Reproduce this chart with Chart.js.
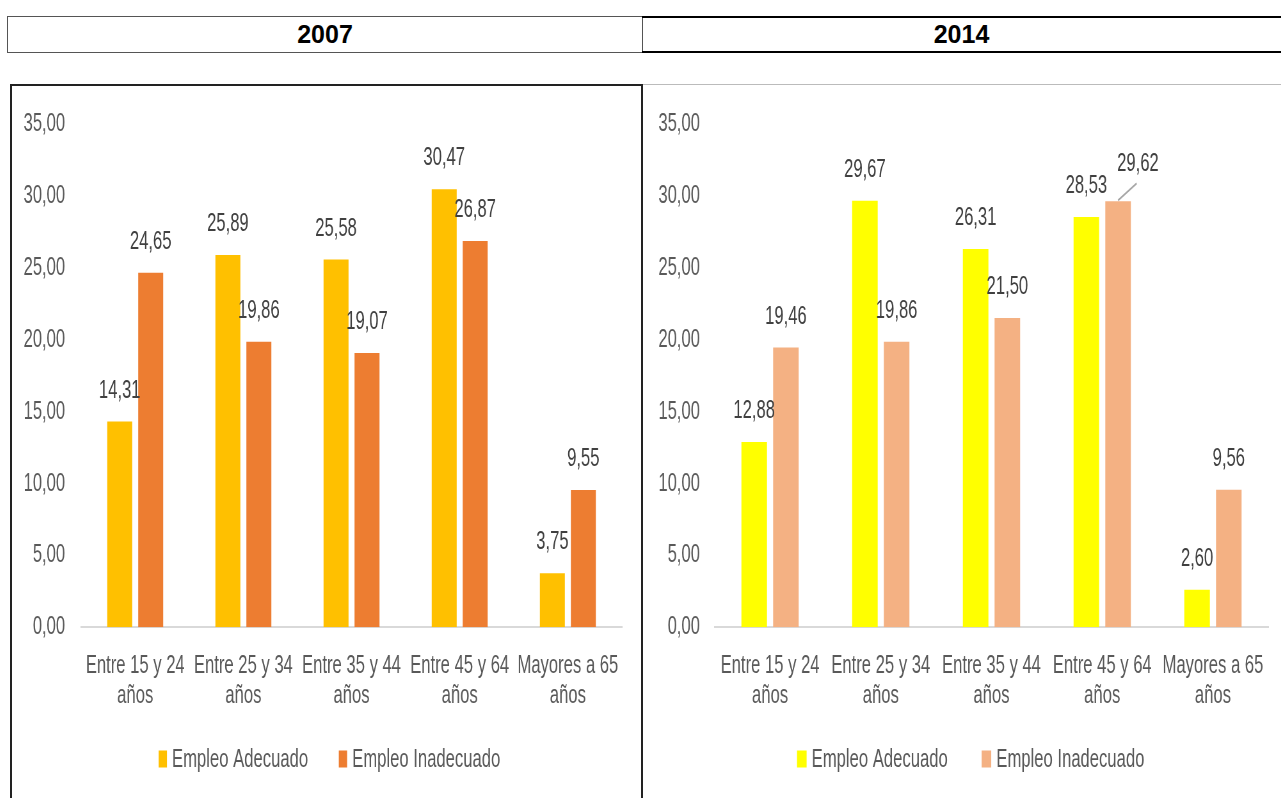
<!DOCTYPE html>
<html>
<head>
<meta charset="utf-8">
<script src="https://cdn.jsdelivr.net/npm/chart.js@4.4.0/dist/chart.umd.min.js"></script>
<style>
    html, body { margin: 0; padding: 0; background: #fff; }
    body {
        width: 1281px; height: 798px; position: relative; overflow: hidden;
        font-family: "Liberation Sans", Arial, sans-serif;
    }
    .head {
        position: absolute; top: 16px; height: 37px; box-sizing: border-box;
        display: flex; align-items: center; justify-content: center;
        font-weight: bold; font-size: 25px; color: #000;
    }
    #h2007 { left: 7px; width: 636px; border: 1px solid #555; }
    #h2014 { left: 642px; width: 639px; border-top: 2px solid #000; border-bottom: 2px solid #000; }
    .panel { position: absolute; top: 84px; height: 714px; box-sizing: border-box; overflow: hidden; }
    #p2007 { left: 10px; width: 633px; border: 2px solid #222; border-bottom: none; }
    #p2014 { left: 643px; width: 638px; border-top: 1px solid #bbb; }
    /* the pasted charts are squeezed sideways, so draw wide and squeeze */
    .squeeze { position: absolute; left: 0; top: 0; transform-origin: 0 0; }
</style>
</head>
<body>

<div class="head" id="h2007">2007</div>
<div class="head" id="h2014">2014</div>

<div class="panel" id="p2007"><div class="squeeze" id="s2007"><canvas id="chart2007"></canvas></div></div>
<div class="panel" id="p2014"><div class="squeeze" id="s2014"><canvas id="chart2014"></canvas></div></div>

<script>
// ---------- DATA ----------
const categories = [
    ["Entre 15 y 24", "años"],
    ["Entre 25 y 34", "años"],
    ["Entre 35 y 44", "años"],
    ["Entre 45 y 64", "años"],
    ["Mayores a 65", "años"]
];
const seriesNames = ["Empleo Adecuado", "Empleo Inadecuado"];

const adecuado2007   = [14.31, 25.89, 25.58, 30.47, 3.75];
const inadecuado2007 = [24.65, 19.86, 19.07, 26.87, 9.55];

const adecuado2014   = [12.88, 29.67, 26.31, 28.53, 2.60];
const inadecuado2014 = [19.46, 19.86, 21.50, 29.62, 9.56];

const yMax = 35;
const yStep = 5;

const SQUEEZE = 0.64;
const TEXT = "#595959";
const FONT = "'Liberation Sans', Arial, sans-serif";
const fmt = v => Number(v).toFixed(2).replace(".", ",");

// ------------------------------------------------------------
// VALUE LABELS ABOVE THE BARS
// ------------------------------------------------------------
const valueLabels = {
    id: "valueLabels",
    afterDatasetsDraw(chart, args, opts) {
        const ctx = chart.ctx;
        ctx.save();
        ctx.font = "26px " + FONT;
        ctx.fillStyle = "#404040";
        ctx.textAlign = "center";
        ctx.textBaseline = "middle";
        chart.data.datasets.forEach((ds, di) => {
            chart.getDatasetMeta(di).data.forEach((bar, i) => {
                const nudge = (opts.nudge || {})[di + "-" + i];
                let x = bar.x, y = bar.y - 31;
                if (nudge) {
                    x += nudge[0];
                    y += nudge[1];
                    // leader line back to the bar
                    ctx.strokeStyle = "#a6a6a6";
                    ctx.lineWidth = 2;
                    ctx.beginPath();
                    ctx.moveTo(bar.x, bar.y - 1);
                    ctx.lineTo(x - 2, y + 20);
                    ctx.stroke();
                }
                ctx.fillText(fmt(ds.data[i]), x, y);
            });
        });
        ctx.restore();
    }
};

// ------------------------------------------------------------
// LEGEND (Excel style: small tall swatches, wide gap between items)
// ------------------------------------------------------------
const swatchLegend = {
    id: "swatchLegend",
    afterDraw(chart, args, opts) {
        const ctx = chart.ctx;
        ctx.save();
        ctx.font = "26px " + FONT;
        ctx.textBaseline = "middle";
        ctx.textAlign = "left";
        const items = chart.data.datasets.map(ds => ({
            text: ds.label,
            color: ds.backgroundColor,
            w: ctx.measureText(ds.label).width
        }));
        const total = items.reduce((a, it) => a + opts.box + opts.textGap + it.w, 0)
            + opts.itemGap * (items.length - 1);
        let x = opts.centerX - total / 2;
        items.forEach(it => {
            ctx.fillStyle = it.color;
            ctx.fillRect(x, opts.y - 8.5, opts.box, 17);
            x += opts.box + opts.textGap;
            ctx.fillStyle = TEXT;
            ctx.fillText(it.text, x, opts.y + 1);
            x += it.w + opts.itemGap;
        });
        ctx.restore();
    }
};

function makeChart(id, wrapId, adec, inadec, colors, geo) {
    const wrap = document.getElementById(wrapId);
    const panel = wrap.parentElement;
    const w = Math.round(panel.clientWidth / SQUEEZE);
    const h = panel.clientHeight;
    wrap.style.width = w + "px";
    wrap.style.height = h + "px";
    wrap.style.transform = `scaleX(${SQUEEZE})`;

    const canvas = document.getElementById(id);
    canvas.width = w;
    canvas.height = h;

    new Chart(canvas, {
        type: "bar",
        data: {
            labels: categories,
            datasets: [
                { label: seriesNames[0], data: adec, backgroundColor: colors[0], borderWidth: 0 },
                { label: seriesNames[1], data: inadec, backgroundColor: colors[1], borderWidth: 0 }
            ]
        },
        options: {
            responsive: false,
            animation: false,
            categoryPercentage: 0.573,
            barPercentage: 0.806,
            layout: { padding: { left: 0, right: geo.right, top: geo.top, bottom: 63 } },
            scales: {
                x: {
                    grid: { display: false, drawTicks: false },
                    border: { display: true, color: "#d9d9d9", width: 2 },
                    ticks: {
                        color: TEXT,
                        padding: 24,
                        maxRotation: 0,
                        autoSkip: false,
                        font: { family: FONT, size: 26, lineHeight: 1.15 }
                    }
                },
                y: {
                    min: 0,
                    max: yMax,
                    // invisible tick length keeps the labels away from the bars
                    grid: { display: false, drawTicks: true, tickLength: geo.tickPad },
                    border: { display: false },
                    afterFit: s => { s.width = geo.left; },
                    ticks: {
                        stepSize: yStep,
                        color: TEXT,
                        padding: 0,
                        callback: v => fmt(v),
                        font: { family: FONT, size: 26 }
                    }
                }
            },
            plugins: {
                tooltip: { enabled: false },
                legend: { display: false },
                valueLabels: { nudge: geo.nudge || {} },
                swatchLegend: geo.legend
            }
        },
        plugins: [valueLabels, swatchLegend]
    });
}

// ------------------------------------------------------------
// PAGE INIT
// ------------------------------------------------------------
makeChart("chart2007", "s2007", adecuado2007, inadecuado2007, ["#FFC000", "#ED7D31"], {
    left: 108, right: 30, top: 38, tickPad: 25,
    legend: { centerX: 496, y: 673, box: 13, textGap: 8, itemGap: 48 }
});

makeChart("chart2014", "s2014", adecuado2014, inadecuado2014, ["#FFFF00", "#F4B183"], {
    left: 112, right: 20, top: 39, tickPad: 23, nudge: { "1-3": [31, -7] },
    legend: { centerX: 512, y: 674, box: 15, textGap: 8, itemGap: 53 }
});
</script>
</body>
</html>
